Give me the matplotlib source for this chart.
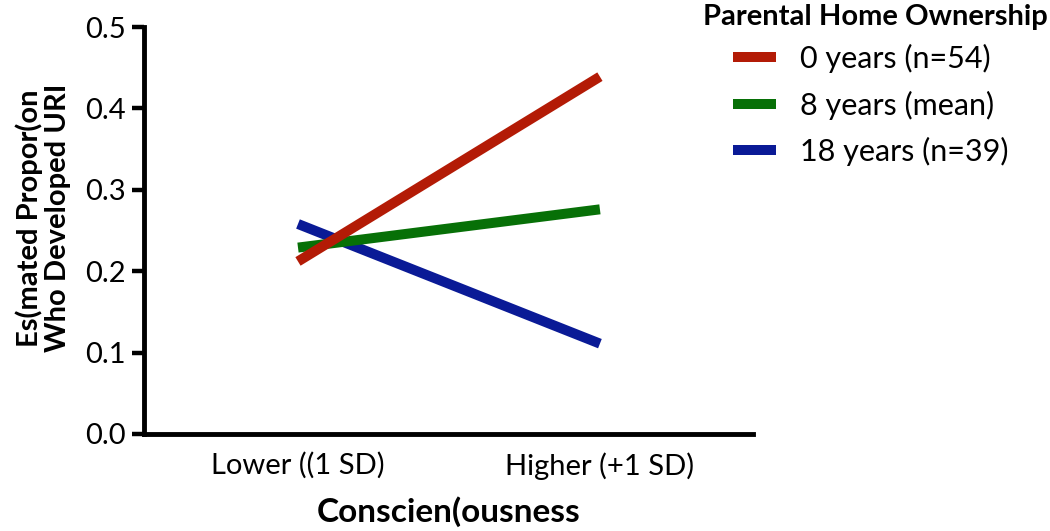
import matplotlib
matplotlib.use("Agg")
import matplotlib.pyplot as plt

plt.rcParams['font.family'] = ['Lato', 'DejaVu Sans']

categories = ["Lower ((1 SD)", "Higher (+1 SD)"]
series_labels = ["0 years (n=54)", "8 years (mean)", "18 years (n=39)"]
red_vals = [0.212, 0.439]
green_vals = [0.229, 0.276]
blue_vals = [0.258, 0.111]
colors = ["#b31b06", "#077007", "#0a1a96"]
yticks = [0.0, 0.1, 0.2, 0.3, 0.4, 0.5]

fig = plt.figure(figsize=(10.5, 5.31), dpi=100)
ax = fig.add_axes([144/1050, 1-434/531, (753-144)/1050, (434-27)/531])

x = list(range(len(categories)))
z = {0: 4, 1: 3, 2: 2}
for i, (vals, lab) in enumerate(zip([red_vals, green_vals, blue_vals], series_labels)):
    ax.plot(x, vals, color=colors[i], lw=7.2, solid_capstyle='butt', label=lab, zorder=z[i])

ax.set_xlim(-0.51, 1.507)
ax.set_ylim(0, 0.5)
ax.set_yticks(yticks)
ax.set_yticklabels([f"{v:.1f}" for v in yticks])
ax.set_xticks(x)
ax.set_xticklabels(categories)
for s in ['top', 'right']:
    ax.spines[s].set_visible(False)
for s in ['left', 'bottom']:
    ax.spines[s].set_linewidth(3.5)
    ax.spines[s].set_capstyle('projecting')
ax.tick_params(axis='y', length=9, width=3.2, labelsize=21, pad=4)
ax.tick_params(axis='x', length=0, labelsize=21, pad=13)

ax.set_xlabel("Conscien(ousness", fontsize=24, fontweight='bold', labelpad=12)
fig.text(0.041, 1-218/531, "Es(mated Propor(on\nWho Developed URI", rotation=90,
         ha='center', va='center', fontsize=21, fontweight='bold', multialignment='center',
         linespacing=1.1)

fig.text(875/1050, 1-17/531, "Parental Home Ownership", ha='center', va='center',
         fontsize=21, fontweight='bold')
leg = ax.legend(loc='upper left', bbox_to_anchor=(733/1050, 1-44/531), bbox_transform=fig.transFigure,
                frameon=False, fontsize=22, handlelength=1.4, handletextpad=0.8,
                labelspacing=0.57, borderaxespad=0, borderpad=0)
fig.savefig("out.png", dpi=100)
